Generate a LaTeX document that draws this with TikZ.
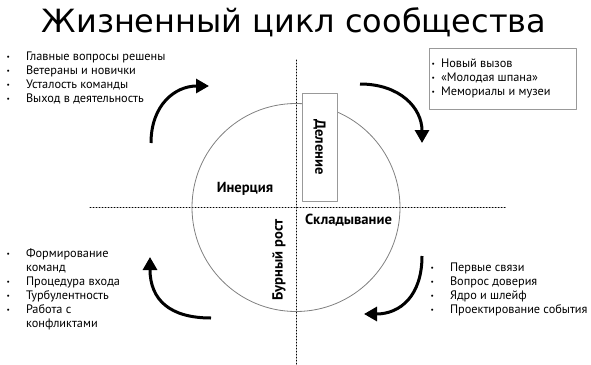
\documentclass[tikz,border=0pt]{standalone}
\usepackage{fontspec}
\setmainfont{PT Sans}
\newfontfamily\titlefont{DejaVu Sans}
\usetikzlibrary{arrows.meta}
\tikzset{
  dots/.style={dotted,line width=1pt,line cap=round},
  bigarrow/.style={line width=3pt,-{Triangle[length=13pt,width=14pt]}},
  phase/.style={font=\fontsize{14.6}{16}\selectfont\bfseries,inner sep=0pt},
  items/.style={font=\fontsize{12.3}{14}\selectfont,inner sep=0pt,anchor=north west},
  greybox/.style={draw=gray!80,line width=0.8pt}
}
\newcommand{\dotitem}{\raisebox{0.15ex}{\scalebox{0.6}{\textbullet}}}

\begin{document}
\begin{tikzpicture}[x=1pt,y=-1pt,>=Stealth,line join=round]
\useasboundingbox (0,0) rectangle (591,364);
% --- title
\node[font=\titlefont\fontsize{32}{36}\selectfont,inner sep=0pt] (title) at (294,22) {Жизненный цикл сообщества};
% --- axes and the cycle
\coordinate (top) at (296,60); \coordinate (bot) at (296,364);
\coordinate (lft) at (90,207.5); \coordinate (rgt) at (506,207.5);
\draw[dots] (top) -- (bot);
\draw[dots] (lft) -- (rgt);
\node[circle,draw=gray,line width=0.8pt,minimum size=208pt,inner sep=0pt] (cycle) at (296,207.5) {};
% --- phases
\node[greybox,fill=white,minimum width=35pt,minimum height=108pt,inner sep=0pt] (split) at (319.5,147) {};
\node[phase,rotate=-90] (splitlbl) at (split) {Деление};
\node[phase] (inertia) at (245,189) {Инерция};
\node[phase] (folding) at (348.5,220) {Складывание};
\node[phase,rotate=90] (growth) at (279,260) {Бурный рост};
% --- lists
\node[items] (tl) at (6.5,50) {\begin{tabular}{@{}l@{\hspace{16pt}}l@{}}
\dotitem & Главные вопросы решены\\ \dotitem & Ветераны и новички\\
\dotitem & Усталость команды\\ \dotitem & Выход в деятельность\end{tabular}};
\node[greybox,minimum width=147pt,minimum height=61pt,inner sep=0pt] (trbox) at (502.5,78.5) {};
\node[items] (tr) at (431.5,57) {\begin{tabular}{@{}l@{\hspace{6pt}}l@{}}
\dotitem & Новый вызов\\ \dotitem & «Молодая шпана»\\
\dotitem & Мемориалы и музеи\end{tabular}};
\node[items] (bl) at (6.5,247) {\begin{tabular}{@{}l@{\hspace{16pt}}l@{}}
\dotitem & Формирование\\ & команд\\ \dotitem & Процедура входа\\
\dotitem & Турбулентность\\ \dotitem & Работа с\\ & конфликтами\end{tabular}};
\node[items] (br) at (430.5,261) {\begin{tabular}{@{}l@{\hspace{16pt}}l@{}}
\dotitem & Первые связи\\ \dotitem & Вопрос доверия\\
\dotitem & Ядро и шлейф\\ \dotitem & Проектирование события\end{tabular}};
% --- arrows between phases
\coordinate (a1) at (151,143); \coordinate (b1) at (209,86);
\coordinate (a2) at (360,84);  \coordinate (b2) at (422,143);
\coordinate (a3) at (422,256); \coordinate (b3) at (364,314);
\coordinate (a4) at (211,318); \coordinate (b4) at (150,257);
\draw[bigarrow] (a1) .. controls (151,105) and (175,86) .. (b1);
\draw[bigarrow] (a2) .. controls (400,84) and (422,108) .. (b2);
\draw[bigarrow] (a3) .. controls (422,296) and (400,314) .. (b3);
\draw[bigarrow] (a4) .. controls (170,318) and (150,300) .. (b4);
\end{tikzpicture}
\end{document}
